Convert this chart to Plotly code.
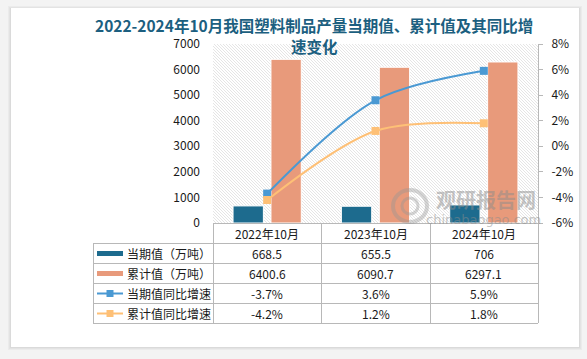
import plotly.graph_objects as go

# ---------------- data ----------------
categories = ["2022年10月", "2023年10月", "2024年10月"]
current_vals = [668.5, 655.5, 706]          # 当期值（万吨）
cumulative_vals = [6400.6, 6090.7, 6297.1]  # 累计值（万吨）
current_yoy = [-3.7, 3.6, 5.9]              # 当期值同比增速 (%)
cumulative_yoy = [-4.2, 1.2, 1.8]           # 累计值同比增速 (%)
left_ticks = [0, 1000, 2000, 3000, 4000, 5000, 6000, 7000]
right_ticks = [-6, -4, -2, 0, 2, 4, 6, 8]

series_names = ["当期值（万吨）", "累计值（万吨）", "当期值同比增速", "累计值同比增速"]
title_lines = ["2022-2024年10月我国塑料制品产量当期值、累计值及其同比增", "速变化"]

# ---------------- styles ----------------
C_DARK = "#1d6b8e"
C_ORANGE = "#e89a7b"
C_BLUE = "#4a99d3"
C_LORANGE = "#fec076"
GRID = "#b8b8b8"
TXT = "#1a1a1a"
FONT = "Noto Sans CJK SC"

W_FIG, H_FIG = 587, 359
PL, PR, PT, PB = 213, 538, 44, 223
PW, PH = PR - PL, PB - PT


def fx(px):
    return (px - PL) / PW


def fy(py):
    return (PB - py) / PH


xs = list(range(len(categories)))

fig = go.Figure()
fig.add_trace(go.Bar(x=xs, y=current_vals, name=series_names[0], marker_color=C_DARK,
                     marker_line=dict(color="white", width=1), yaxis="y"))
fig.add_trace(go.Bar(x=xs, y=cumulative_vals, name=series_names[1], marker_color=C_ORANGE,
                     marker_line=dict(color="white", width=1), yaxis="y"))
fig.add_trace(go.Scatter(x=xs, y=current_yoy, name=series_names[2], yaxis="y2", mode="lines+markers",
                         line=dict(color=C_BLUE, width=2, shape="spline", smoothing=0.9),
                         marker=dict(symbol="square", size=8, color=C_BLUE)))
fig.add_trace(go.Scatter(x=xs, y=cumulative_yoy, name=series_names[3], yaxis="y2", mode="lines+markers",
                         line=dict(color=C_LORANGE, width=2, shape="spline", smoothing=0.9),
                         marker=dict(symbol="square", size=8, color=C_LORANGE)))

shapes = []
annotations = []


def label(xp, yp, text, size=12, color=TXT, family=FONT, xanchor="center"):
    annotations.append(dict(x=fx(xp), y=fy(yp), xref="paper", yref="paper", text=text,
                            showarrow=False, xanchor=xanchor, yanchor="middle",
                            font=dict(size=size, color=color, family=family)))


# card background + soft shadow
for i, c in enumerate(["#ebebeb", "#e3e3e3", "#dadada"]):
    d = 3 - i
    shapes.append(dict(type="rect", xref="paper", yref="paper", layer="below",
                       x0=fx(11 - d), x1=fx(579 + d), y0=fy(347 + d), y1=fy(8 - d + 1),
                       fillcolor=c, line=dict(width=0)))
shapes.append(dict(type="rect", xref="paper", yref="paper", layer="below",
                   x0=fx(11), x1=fx(579), y0=fy(347), y1=fy(8),
                   fillcolor="white", line=dict(width=0)))

# hatched plot background (diagonal lines, clipped to the plot area)
step = 3
u = -PH
while u < PW:
    t0 = max(0, -u)
    t1 = min(PH, PW - u)
    if t1 > t0:
        shapes.append(dict(type="line", xref="x domain", yref="y domain", layer="below",
                           x0=(u + t0) / PW, y0=1 - t0 / PH, x1=(u + t1) / PW, y1=1 - t1 / PH,
                           line=dict(color="#dadada", width=0.7)))
    u += step

# data table grid
rows_y = [223, 243, 263, 283, 303, 323]
cols_x = [93, 213, 321.3, 429.7, 538]


def hline(x0, x1, y):
    shapes.append(dict(type="line", xref="paper", yref="paper", layer="above", x0=fx(x0), x1=fx(x1),
                       y0=fy(y), y1=fy(y), line=dict(color=GRID, width=1)))


def vline(x, y0, y1):
    shapes.append(dict(type="line", xref="paper", yref="paper", layer="above", x0=fx(x), x1=fx(x),
                       y0=fy(y0), y1=fy(y1), line=dict(color=GRID, width=1)))


hline(213, 538, 223.5)
for y in rows_y[1:]:
    hline(93, 538, y + 0.5)
vline(93.5, 243, 323)
for x in cols_x[1:]:
    vline(round(x) + 0.5, 223, 323)

col_centers = [(cols_x[i + 1] + cols_x[i + 2]) / 2 for i in range(3)]
row_centers = [(rows_y[i] + rows_y[i + 1]) / 2 + 0.5 for i in range(5)]

for c, cat in zip(col_centers, categories):
    label(c, row_centers[0], cat)

table_vals = [
    [f"{v:g}" for v in current_vals],
    [f"{v:g}" for v in cumulative_vals],
    [f"{v:.1f}%" for v in current_yoy],
    [f"{v:.1f}%" for v in cumulative_yoy],
]
for r, vals in enumerate(table_vals):
    yc = row_centers[r + 1]
    for c, v in zip(col_centers, vals):
        label(c, yc, v)
    label(125, yc, series_names[r], size=12, xanchor="left")

# legend keys in table
sym_colors = [C_DARK, C_ORANGE, C_BLUE, C_LORANGE]
for r, col in enumerate(sym_colors):
    yc = row_centers[r + 1]
    if r < 2:
        shapes.append(dict(type="rect", xref="paper", yref="paper", x0=fx(97), x1=fx(123),
                           y0=fy(yc + 2.5), y1=fy(yc - 2.5), fillcolor=col, line=dict(width=0)))
    else:
        shapes.append(dict(type="line", xref="paper", yref="paper", x0=fx(97), x1=fx(123),
                           y0=fy(yc), y1=fy(yc), line=dict(color=col, width=2)))
        shapes.append(dict(type="rect", xref="paper", yref="paper", x0=fx(106.5), x1=fx(113.5),
                           y0=fy(yc + 3.5), y1=fy(yc - 3.5), fillcolor=col, line=dict(width=0)))

# title (two lines)
for line, yc in zip(title_lines, [25, 46]):
    label(314, yc, f"<b>{line}</b>", size=15.5, color="#1c5f80")

# watermark
label(486, 199, "<b>观研报告网</b>", size=20, color="rgba(140,140,140,0.5)")
label(483, 219, "chinabaogao.com", size=13, color="rgba(140,140,140,0.5)", family="DejaVu Sans")
shapes.append(dict(type="circle", xref="paper", yref="paper", x0=fx(393), x1=fx(427),
                   y0=fy(222), y1=fy(190), line=dict(color="rgba(150,150,150,0.4)", width=4)))
shapes.append(dict(type="circle", xref="paper", yref="paper", x0=fx(402), x1=fx(418),
                   y0=fy(214), y1=fy(198), line=dict(color="rgba(150,150,150,0.4)", width=3)))

fig.update_layout(
    width=W_FIG, height=H_FIG, autosize=False,
    margin=dict(l=PL, r=W_FIG - PR, t=PT, b=H_FIG - PB, pad=0),
    paper_bgcolor="#f3f3f3",
    plot_bgcolor="rgba(0,0,0,0)",
    showlegend=False,
    barmode="group", bargap=0.3, bargroupgap=0.2,
    xaxis=dict(range=[-0.5, len(categories) - 0.5], showticklabels=False, showgrid=False,
               zeroline=False, showline=False, ticks="", automargin=False),
    yaxis=dict(range=[0, 7000], tickvals=left_ticks, showgrid=False, zeroline=False, showline=False,
               ticks="", ticklabelstandoff=12, automargin=False,
               tickfont=dict(size=12, color=TXT, family=FONT)),
    yaxis2=dict(range=[-6, 8], tickvals=right_ticks, ticktext=[f"{v}%" for v in right_ticks],
                overlaying="y", side="right", automargin=False,
                showgrid=False, zeroline=False, showline=True, linecolor=GRID, linewidth=1,
                ticks="outside", ticklen=4, tickcolor=GRID, ticklabelstandoff=6,
                tickfont=dict(size=12, color=TXT, family=FONT)),
    shapes=shapes,
    annotations=annotations,
)

fig.write_html("out.html", config={"displayModeBar": False},
               post_script="document.body.style.margin='0';document.body.style.overflow='hidden';")
